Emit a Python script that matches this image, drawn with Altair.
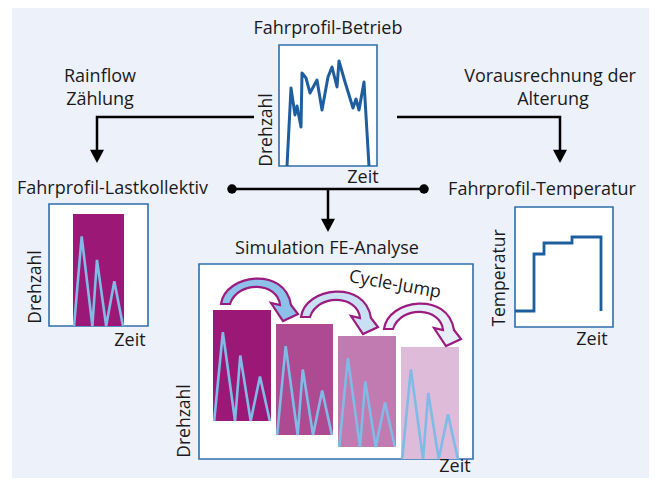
import altair as alt
import pandas as pd

# ---------------- layout (reference pixel space) ----------------
W, H = 641, 470
X0, Y0 = 8, 8
FONT = "Open Sans"
FS = 18

BG = "#EDF1FA"
BOX_STROKE = "#2E6DAA"
LINE_BLUE = "#1E5E9E"
ZIG_BLUE = "#80BAE7"
MAGENTA_EDGE = "#9B1B7E"

# boxes: name, left, top, right, bottom
BOX_NAMES = ["Betrieb", "Lastkollektiv", "Temperatur", "FE"]
BOX_L = [279, 49, 515, 199]
BOX_T = [45, 204, 207, 264]
BOX_R = [377, 148, 613, 473]
BOX_B = [166, 326, 327, 459]

# load-collective blocks (left box + four blocks of the FE simulation)
BLK_L = [73, 213, 276, 338, 401]
BLK_T = [214, 310, 324, 336, 347]
BLK_R = [124, 271, 333, 396, 459]
BLK_B = [326, 421, 435, 447, 459]
BLK_COLOR = ["#9C1877", "#9C1877", "#AD4A92", "#C17BB0", "#DEBBD9"]

# rainflow zig-zag (fraction of block width / block height)
ZIG_X = [0.02, 0.17, 0.38, 0.47, 0.65, 0.81, 0.98]
ZIG_Y = [0.0, 0.80, 0.0, 0.59, 0.0, 0.40, 0.0]

# driving profile (top inset)
PROF_X = [287, 291, 295, 297, 301, 302, 306, 310, 317, 322, 328, 332, 337, 339, 345, 353, 356, 359, 364, 369]
PROF_Y = [166, 88, 115, 106, 127, 73, 78, 93, 80, 110, 77, 67, 87, 61, 82, 108, 99, 110, 82, 166]

# temperature profile (right inset)
TEMP_X = [515, 534, 534, 544, 544, 572, 572, 601, 601]
TEMP_Y = [311, 311, 254, 254, 243, 243, 237, 237, 311]

# connectors
CONN = {
    "left": ([254, 97, 97], [117, 117, 150]),
    "right": ([397, 560, 560], [117, 117, 150]),
    "mid": ([232, 424], [189, 189]),
    "down": ([328, 328], [189, 220]),
}
HEAD_X = [97, 560, 328]
HEAD_Y = [156, 156, 225]
DOT_X = [232, 424]
DOT_Y = [189, 189]

# cycle-jump arrows
JUMP_X = [258, 338, 421]
JUMP_Y = [300, 313, 325]
JUMP_FILL = ["#8EC0EA", "#C9DFF3", "#E6EFF9"]
ARROW_PATH = ("M-0.925,0.1 C-0.825,-0.65 0.675,-0.85 0.825,0.125 L1.0,0.35 "
              "L0.625,0.525 L0.325,0.075 L0.55,0.125 C0.5,-0.45 -0.5,-0.5 -0.7,0.1 Z")
HEAD_PATH = "M-1,-0.9 L1,-0.9 L0,1 Z"

# texts
TXT = ["Fahrprofil-Betrieb", "Rainflow", "Zählung", "Vorausrechnung der", "Alterung",
       "Fahrprofil-Temperatur", "Simulation FE-Analyse",
       "Zeit", "Zeit", "Zeit", "Zeit"]
TXT_X = [328, 100, 100, 550, 553, 542, 327, 363, 130, 592, 455]
TXT_Y = [29, 77, 100, 77, 100, 190, 249, 178, 341, 340, 467]
LEFT_TXT = ["Fahrprofil-Lastkollektiv"]
LEFT_X = [17]
LEFT_Y = [189]
VTXT = ["Drehzahl", "Drehzahl", "Temperatur", "Drehzahl"]
VTXT_X = [267, 36, 500, 185]
VTXT_Y = [130, 287, 278, 421]
CJ_TXT = ["Cycle-Jump"]
CJ_X = [395]
CJ_Y = [285]

# ---------------- build ----------------
xs = alt.Scale(domain=[X0, X0 + W], nice=False, zero=False)
ys = alt.Scale(domain=[Y0, Y0 + H], nice=False, zero=False, reverse=True)


def X(f="x"):
    return alt.X(f"{f}:Q", scale=xs, axis=None)


def Y(f="y"):
    return alt.Y(f"{f}:Q", scale=ys, axis=None)


bg_df = pd.DataFrame({"x": [12], "x2": [660], "y": [6], "y2": [490]})
bg = alt.Chart(bg_df).mark_rect(fill=BG).encode(x=X(), x2="x2:Q", y=Y(), y2="y2:Q")

box_df = pd.DataFrame({"n": BOX_NAMES, "x": BOX_L, "x2": BOX_R, "y": BOX_T, "y2": BOX_B})
boxes = alt.Chart(box_df).mark_rect(fill="white", stroke=BOX_STROKE, strokeWidth=1.6).encode(
    x=X(), x2="x2:Q", y=Y(), y2="y2:Q")

blk_df = pd.DataFrame({"x": BLK_L, "x2": BLK_R, "y": BLK_T, "y2": BLK_B, "c": BLK_COLOR})
blocks = alt.Chart(blk_df).mark_rect().encode(
    x=X(), x2="x2:Q", y=Y(), y2="y2:Q", color=alt.Color("c:N", scale=None))

zrows = []
for b in range(len(BLK_L)):
    w = BLK_R[b] - BLK_L[b]
    h = BLK_B[b] - BLK_T[b]
    for i, (fx, fy) in enumerate(zip(ZIG_X, ZIG_Y)):
        zrows.append({"g": b, "i": i, "x": BLK_L[b] + fx * w, "y": BLK_B[b] - fy * h})
zig = alt.Chart(pd.DataFrame(zrows)).mark_line(color=ZIG_BLUE, strokeWidth=2.6).encode(
    x=X(), y=Y(), detail="g:N", order="i:Q")

prof_df = pd.DataFrame({"x": PROF_X, "y": PROF_Y, "i": range(len(PROF_X))})
prof = alt.Chart(prof_df).mark_line(color=LINE_BLUE, strokeWidth=3, strokeJoin="round").encode(
    x=X(), y=Y(), order="i:Q")

temp_df = pd.DataFrame({"x": TEMP_X, "y": TEMP_Y, "i": range(len(TEMP_X))})
temp = alt.Chart(temp_df).mark_line(color=LINE_BLUE, strokeWidth=2.8).encode(
    x=X(), y=Y(), order="i:Q")

crows = []
for k, (cx, cy) in CONN.items():
    for i, (a, b) in enumerate(zip(cx, cy)):
        crows.append({"g": k, "i": i, "x": a, "y": b})
conn = alt.Chart(pd.DataFrame(crows)).mark_line(color="black", strokeWidth=2.5).encode(
    x=X(), y=Y(), detail="g:N", order="i:Q")

heads = alt.Chart(pd.DataFrame({"x": HEAD_X, "y": HEAD_Y})).mark_point(
    shape=HEAD_PATH, filled=True, color="black", size=196, opacity=1).encode(x=X(), y=Y())

dots = alt.Chart(pd.DataFrame({"x": DOT_X, "y": DOT_Y})).mark_circle(
    color="black", size=90, opacity=1).encode(x=X(), y=Y())

jumps = alt.Chart(pd.DataFrame({"x": JUMP_X, "y": JUMP_Y, "f": JUMP_FILL})).mark_point(
    shape=ARROW_PATH, filled=True, size=6400, stroke=MAGENTA_EDGE, strokeWidth=2.2, opacity=1
).encode(x=X(), y=Y(), fill=alt.Fill("f:N", scale=None))

txt = alt.Chart(pd.DataFrame({"t": TXT, "x": TXT_X, "y": TXT_Y})).mark_text(
    font=FONT, fontSize=FS, color="#1a1a1a", align="center", baseline="middle").encode(
    x=X(), y=Y(), text="t:N")

ltxt = alt.Chart(pd.DataFrame({"t": LEFT_TXT, "x": LEFT_X, "y": LEFT_Y})).mark_text(
    font=FONT, fontSize=FS, color="#1a1a1a", align="left", baseline="middle").encode(
    x=X(), y=Y(), text="t:N")

vtxt = alt.Chart(pd.DataFrame({"t": VTXT, "x": VTXT_X, "y": VTXT_Y})).mark_text(
    font=FONT, fontSize=17.5, color="#1a1a1a", align="center", baseline="middle", angle=270).encode(
    x=X(), y=Y(), text="t:N")

cj = alt.Chart(pd.DataFrame({"t": CJ_TXT, "x": CJ_X, "y": CJ_Y})).mark_text(
    font=FONT, fontSize=FS, color="#1a1a1a", align="center", baseline="middle", angle=10).encode(
    x=X(), y=Y(), text="t:N")

chart = alt.layer(
    bg, boxes, blocks, zig, prof, temp, conn, heads, dots, jumps, txt, ltxt, vtxt, cj
).properties(
    width=W, height=H, padding=0, autosize=alt.AutoSizeParams(type="none"), background="white"
).configure_view(stroke=None)

chart.save("out.html", embed_options={"renderer": "svg", "actions": False})
